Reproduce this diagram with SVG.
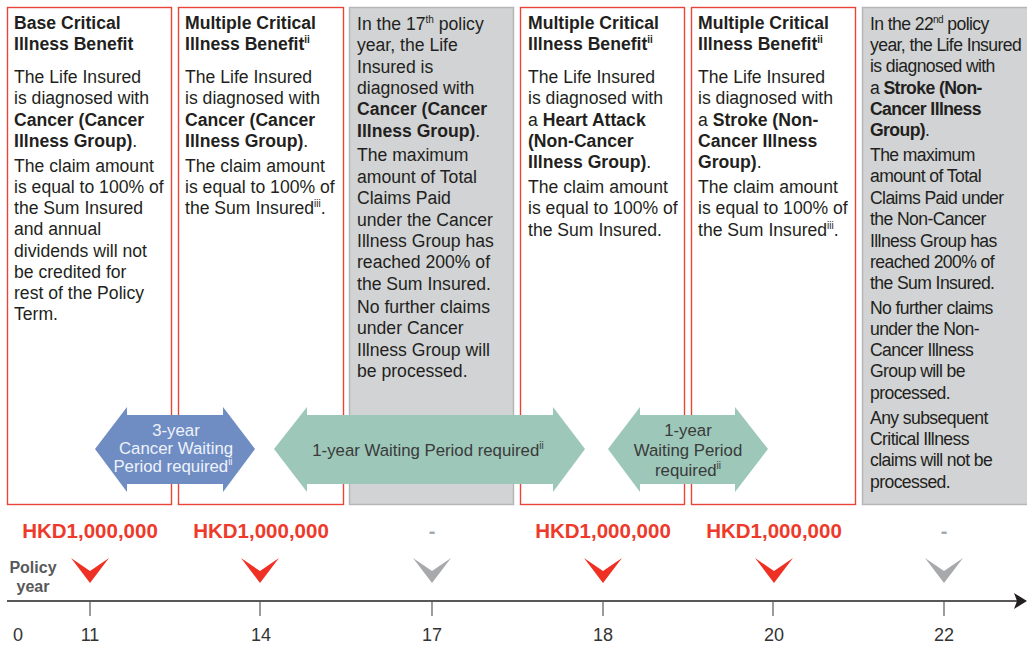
<svg xmlns="http://www.w3.org/2000/svg" width="1027" height="649" viewBox="0 0 1027 649">
<style>
text{font-family:"Liberation Sans",Arial,sans-serif;fill:#231f20}
.t{font-size:17.6px}
.b{font-weight:bold}
.sup{font-size:10px}
.box{fill:#fff;stroke:#e8443a;stroke-width:1.4}
.gbox{fill:#d1d3d4;stroke:#b3b5b7;stroke-width:1.4}
.cond{letter-spacing:-0.6px}
.amt{font-size:20.5px;font-weight:bold;fill:#ee3a2b;text-anchor:middle}
.dash{font-size:20px;font-weight:bold;fill:#a7a9ac;text-anchor:middle}
.red{fill:#ee3124}
.grey{fill:#a7a9ac}
.num{font-size:18px;fill:#333;text-anchor:middle}
.tick{stroke:#666;stroke-width:1.3}
.arrtxt{font-size:16.8px;text-anchor:middle}
</style>

<g id="box1">
<rect class="box" x="7.5" y="7.5" width="164" height="497"/>
<text class="t"><tspan class="b" x="14" y="29">Base Critical</tspan><tspan class="b" x="14" y="50">Illness Benefit</tspan>
<tspan x="14" y="83">The Life Insured</tspan><tspan x="14" y="104">is diagnosed with</tspan><tspan class="b" x="14" y="126">Cancer (Cancer</tspan><tspan x="14" y="147"><tspan class="b">Illness Group)</tspan>.</tspan>
<tspan x="14" y="172">The claim amount</tspan><tspan x="14" y="193">is equal to 100% of</tspan><tspan x="14" y="214">the Sum Insured</tspan><tspan x="14" y="235">and annual</tspan><tspan x="14" y="257">dividends will not</tspan><tspan x="14" y="278">be credited for</tspan><tspan x="14" y="299">rest of the Policy</tspan><tspan x="14" y="320">Term.</tspan></text>
</g>

<g id="box2">
<rect class="box" x="178.5" y="7.5" width="165" height="497"/>
<text class="t"><tspan class="b" x="185" y="29">Multiple Critical</tspan><tspan class="b" x="185" y="50">Illness Benefit<tspan class="sup" dy="-7">ii</tspan></tspan>
<tspan x="185" y="83">The Life Insured</tspan><tspan x="185" y="104">is diagnosed with</tspan><tspan class="b" x="185" y="126">Cancer (Cancer</tspan><tspan x="185" y="147"><tspan class="b">Illness Group)</tspan>.</tspan>
<tspan x="185" y="172">The claim amount</tspan><tspan x="185" y="193">is equal to 100% of</tspan><tspan x="185" y="214">the Sum Insured<tspan class="sup" dy="-7">iii</tspan><tspan dy="7">.</tspan></tspan></text>
</g>

<g id="box3">
<rect class="gbox" x="349.5" y="7.5" width="164" height="497"/>
<text class="t"><tspan x="357" y="30">In the 17<tspan class="sup" dy="-7">th</tspan><tspan dy="7"> policy</tspan></tspan><tspan x="357" y="51">year, the Life</tspan><tspan x="357" y="73">Insured is</tspan><tspan x="357" y="94">diagnosed with</tspan><tspan class="b" x="357" y="115">Cancer (Cancer</tspan><tspan x="357" y="137"><tspan class="b">Illness Group)</tspan>.</tspan>
<tspan x="357" y="161">The maximum</tspan><tspan x="357" y="183">amount of Total</tspan><tspan x="357" y="204">Claims Paid</tspan><tspan x="357" y="226">under the Cancer</tspan><tspan x="357" y="247">Illness Group has</tspan><tspan x="357" y="268">reached 200% of</tspan><tspan x="357" y="290">the Sum Insured.</tspan>
<tspan x="357" y="313">No further claims</tspan><tspan x="357" y="334">under Cancer</tspan><tspan x="357" y="356">Illness Group will</tspan><tspan x="357" y="377">be processed.</tspan></text>
</g>

<g id="box4">
<rect class="box" x="520.5" y="7.5" width="164" height="497"/>
<text class="t"><tspan class="b" x="528" y="29">Multiple Critical</tspan><tspan class="b" x="528" y="50">Illness Benefit<tspan class="sup" dy="-7">ii</tspan></tspan>
<tspan x="528" y="83">The Life Insured</tspan><tspan x="528" y="104">is diagnosed with</tspan><tspan x="528" y="126">a <tspan class="b">Heart Attack</tspan></tspan><tspan class="b" x="528" y="147">(Non-Cancer</tspan><tspan x="528" y="168"><tspan class="b">Illness Group)</tspan>.</tspan>
<tspan x="528" y="193">The claim amount</tspan><tspan x="528" y="214">is equal to 100% of</tspan><tspan x="528" y="236">the Sum Insured.</tspan></text>
</g>

<g id="box5">
<rect class="box" x="691.5" y="7.5" width="164" height="497"/>
<text class="t"><tspan class="b" x="698" y="29">Multiple Critical</tspan><tspan class="b" x="698" y="50">Illness Benefit<tspan class="sup" dy="-7">ii</tspan></tspan>
<tspan x="698" y="83">The Life Insured</tspan><tspan x="698" y="104">is diagnosed with</tspan><tspan x="698" y="126">a <tspan class="b">Stroke (Non-</tspan></tspan><tspan class="b" x="698" y="147">Cancer Illness</tspan><tspan x="698" y="168"><tspan class="b">Group)</tspan>.</tspan>
<tspan x="698" y="193">The claim amount</tspan><tspan x="698" y="214">is equal to 100% of</tspan><tspan x="698" y="236">the Sum Insured<tspan class="sup" dy="-7">iii</tspan><tspan dy="7">.</tspan></tspan></text>
</g>

<g id="box6">
<rect class="gbox" x="862.5" y="7.5" width="170" height="497"/>
<text class="t cond"><tspan x="870" y="30">In the 22<tspan class="sup" dy="-7">nd</tspan><tspan dy="7"> policy</tspan></tspan><tspan x="870" y="51">year, the Life Insured</tspan><tspan x="870" y="72">is diagnosed with</tspan><tspan x="870" y="94">a <tspan class="b">Stroke (Non-</tspan></tspan><tspan class="b" x="870" y="115">Cancer Illness</tspan><tspan x="870" y="136"><tspan class="b">Group)</tspan>.</tspan>
<tspan x="870" y="161">The maximum</tspan><tspan x="870" y="182">amount of Total</tspan><tspan x="870" y="204">Claims Paid under</tspan><tspan x="870" y="225">the Non-Cancer</tspan><tspan x="870" y="247">Illness Group has</tspan><tspan x="870" y="268">reached 200% of</tspan><tspan x="870" y="289">the Sum Insured.</tspan>
<tspan x="870" y="314">No further claims</tspan><tspan x="870" y="335">under the Non-</tspan><tspan x="870" y="356">Cancer Illness</tspan><tspan x="870" y="377">Group will be</tspan><tspan x="870" y="399">processed.</tspan>
<tspan x="870" y="424">Any subsequent</tspan><tspan x="870" y="445">Critical Illness</tspan><tspan x="870" y="466">claims will not be</tspan><tspan x="870" y="488">processed.</tspan></text>
</g>

<g id="wait-cancer">
<polygon fill="#6f8dc3" points="95,449 127,407 127,415 223,415 223,407 255,449 223,492 223,484 127,484 127,492"/>
<text class="arrtxt" style="fill:#eef2fa"><tspan x="176" y="436">3-year</tspan><tspan x="176" y="454">Cancer Waiting</tspan><tspan x="173" y="472">Period required<tspan class="sup" dy="-7">ii</tspan></tspan></text>
</g>

<g id="wait-1">
<polygon fill="#9cc7b9" points="274,449 307,407 307,415 553,415 553,407 585,449 553,492 553,484 307,484 307,492"/>
<text class="arrtxt" style="fill:#3a3a3a"><tspan x="428" y="456">1-year Waiting Period required<tspan class="sup" dy="-7">ii</tspan></tspan></text>
</g>

<g id="wait-2">
<polygon fill="#9cc7b9" points="608,449 640,407 640,415 735,415 735,407 768,449 735,492 735,484 640,484 640,492"/>
<text class="arrtxt" style="fill:#3a3a3a"><tspan x="688" y="436">1-year</tspan><tspan x="688" y="456">Waiting Period</tspan><tspan x="688" y="476">required<tspan class="sup" dy="-7">ii</tspan></tspan></text>
</g>

<g id="amounts">
<text class="amt" x="90" y="538">HKD1,000,000</text>
<text class="amt" x="261" y="538">HKD1,000,000</text>
<text class="dash" x="432" y="538">-</text>
<text class="amt" x="603" y="538">HKD1,000,000</text>
<text class="amt" x="774" y="538">HKD1,000,000</text>
<text class="dash" x="944" y="538">-</text>
</g>

<g id="markers">
<polygon class="red" points="71,558 90,571 109,558 90,583"/>
<polygon class="red" points="241,558 260,571 279,558 260,583"/>
<polygon class="grey" points="413,558 432,571 451,558 432,583"/>
<polygon class="red" points="584,558 603,571 622,558 603,583"/>
<polygon class="red" points="755,558 774,571 793,558 774,583"/>
<polygon class="grey" points="925,558 944,571 963,558 944,583"/>
</g>

<g id="policy-year-label">
<text class="b" style="font-size:16px;fill:#58595b;text-anchor:middle"><tspan x="33" y="573">Policy</tspan><tspan x="33" y="592">year</tspan></text>
</g>

<g id="connectors">
<line x1="7" y1="601" x2="1018" y2="601" stroke="#231f20" stroke-width="1.5"/>
<polygon fill="#231f20" points="1027,601 1014,593 1017,601 1014,609"/>
<line class="tick" x1="90" y1="602" x2="90" y2="616"/>
<line class="tick" x1="260" y1="602" x2="260" y2="616"/>
<line class="tick" x1="432" y1="602" x2="432" y2="616"/>
<line class="tick" x1="603" y1="602" x2="603" y2="616"/>
<line class="tick" x1="773" y1="602" x2="773" y2="616"/>
<line class="tick" x1="944" y1="602" x2="944" y2="616"/>
</g>

<g id="axis-labels">
<text class="num" x="18" y="641">0</text>
<text class="num" x="90" y="641">11</text>
<text class="num" x="261" y="641">14</text>
<text class="num" x="432" y="641">17</text>
<text class="num" x="603" y="641">18</text>
<text class="num" x="774" y="641">20</text>
<text class="num" x="944" y="641">22</text>
</g>
</svg>
